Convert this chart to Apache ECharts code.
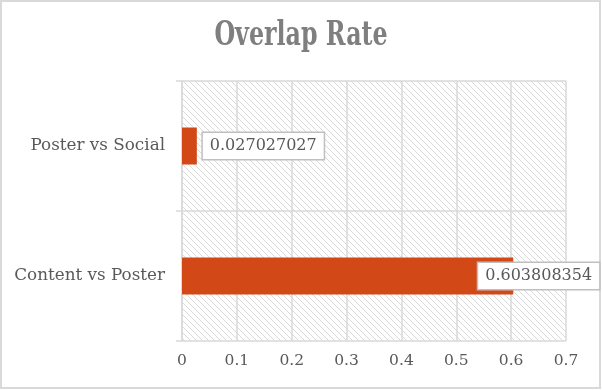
<!DOCTYPE html>
<html><head><meta charset="utf-8">
<script src="https://cdn.jsdelivr.net/npm/echarts@6/dist/echarts.min.js"></script>
<style>html,body{margin:0;padding:0;background:#fff}#c{width:602px;height:390px}</style>
</head><body><div id="c"></div>
<script>
const titleText = 'Overlap Rate';
const categories = ['Content vs Poster', 'Poster vs Social'];
const values = [0.603808354, 0.027027027];
const xTicks = { min: 0, max: 0.7, interval: 0.1 };

const pc = document.createElement('canvas');
pc.width = 6; pc.height = 6;
const ctx = pc.getContext('2d');
ctx.fillStyle = '#fff'; ctx.fillRect(0,0,6,6);
ctx.fillStyle = '#d9d9d9';
for (let i = 0; i < 6; i++) ctx.fillRect(i, i, 1, 1);

const font = 'DejaVu Serif';
const chart = echarts.init(document.getElementById('c'), null, {renderer: 'canvas'});
chart.setOption({
  backgroundColor: '#fff',
  animation: false,
  grid: { left: 182, right: 36, top: 81, bottom: 49, show: true,
    backgroundColor: { image: pc, repeat: 'repeat' }, borderWidth: 0 },
  xAxis: {
    type: 'value', min: xTicks.min, max: xTicks.max, interval: xTicks.interval,
    axisLine: { show: false }, axisTick: { show: false },
    axisLabel: { fontFamily: font, fontSize: 15.5, color: '#595959', margin: 12 },
    splitLine: { show: true, lineStyle: { color: '#d9d9d9', width: 1.5 } }
  },
  yAxis: {
    type: 'category', data: categories,
    axisLine: { show: true, lineStyle: { color: '#d9d9d9', width: 1.5 } },
    axisTick: { show: true, length: 6, lineStyle: { color: '#d9d9d9', width: 1.5 } },
    axisLabel: { fontFamily: font, fontSize: 16.8, color: '#595959', margin: 17 },
    splitLine: { show: true, lineStyle: { color: '#d9d9d9', width: 1.5 } }
  },
  series: [{
    type: 'bar', data: values.map((v, i) => ({
      value: v,
      label: i === 0 ? { position: 'right', offset: [-40, 0] } : { position: 'right', offset: [1, 0] }
    })),
    barWidth: 37,
    itemStyle: { color: '#D34817' },
    label: { show: true, fontFamily: font, fontSize: 16, color: '#595959',
      backgroundColor: '#fff', borderColor: '#bfbfbf', borderWidth: 1.5, padding: [5, 7] }
  }],
  graphic: [
    { type: 'rect', shape: { x: 1, y: 1, width: 599, height: 387 }, silent: true,
      style: { fill: 'none', stroke: '#d9d9d9', lineWidth: 2 } },
    { type: 'text', x: 301, y: 36, scaleX: 0.8, silent: true,
      style: { text: titleText, fontFamily: 'DejaVu Serif Condensed', fontWeight: 'bold',
        fontSize: 33, fill: '#7f7f7f', align: 'center', verticalAlign: 'middle' } }
  ]
});
</script></body></html>
